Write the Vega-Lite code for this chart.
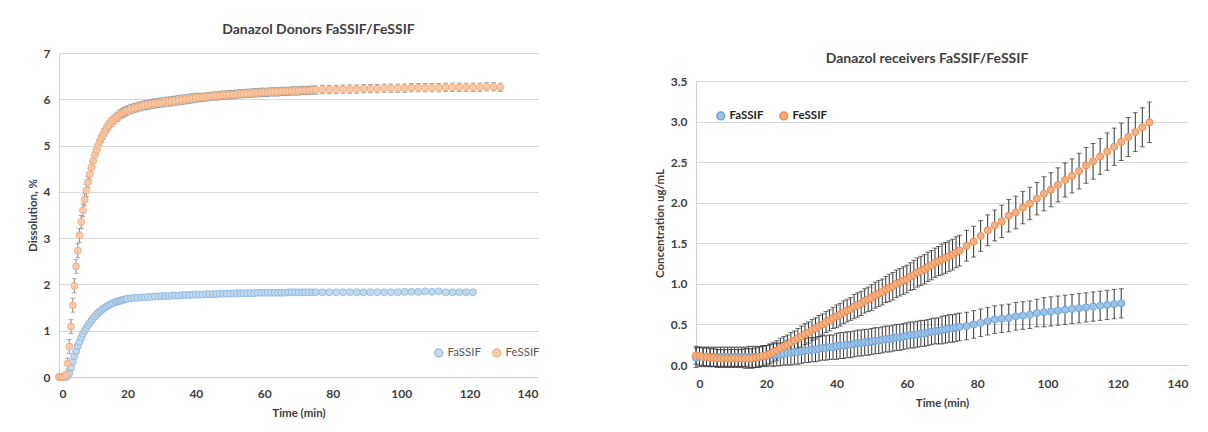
{
"$schema": "https://vega.github.io/schema/vega-lite/v6.json",
"background": "white",
"padding": {"left": 27, "top": 23, "right": 5, "bottom": 5},
"align": "none",
"spacing": 114,
"config": {
  "font": "Lato",
  "view": {"stroke": null},
  "axis": {"labelFont": "Lato", "labelFontWeight": "bold", "labelFontSize": 12, "labelColor": "#404040", "titleFont": "Lato", "titleFontWeight": "bold", "titleFontSize": 11.5, "titleColor": "#404040", "ticks": false, "gridColor": "#d9d9d9", "domainColor": "#d0d0d0", "labelPadding": 9},
  "title": {"font": "Lato", "fontSize": 14, "fontWeight": "bold", "color": "#404040", "anchor": "middle"}
},
"datasets": {
"donor": [
{"s":"FaSSIF","t":0,"y":0,"e":0.02},{"s":"FaSSIF","t":0.5,"y":0,"e":0.02},{"s":"FaSSIF","t":1,"y":0,"e":0.02},{"s":"FaSSIF","t":1.5,"y":0,"e":0.02},{"s":"FaSSIF","t":2,"y":0,"e":0.02},{"s":"FaSSIF","t":2.5,"y":0.02,"e":0.02},{"s":"FaSSIF","t":3,"y":0.08,"e":0.03},{"s":"FaSSIF","t":3.5,"y":0.2,"e":0.04},{"s":"FaSSIF","t":4,"y":0.33,"e":0.04},{"s":"FaSSIF","t":4.5,"y":0.45,"e":0.04},{"s":"FaSSIF","t":5,"y":0.56,"e":0.04},{"s":"FaSSIF","t":5.5,"y":0.67,"e":0.04},{"s":"FaSSIF","t":6,"y":0.76,"e":0.04},{"s":"FaSSIF","t":6.5,"y":0.85,"e":0.04},{"s":"FaSSIF","t":7,"y":0.93,"e":0.04},{"s":"FaSSIF","t":7.5,"y":1.0,"e":0.04},{"s":"FaSSIF","t":8,"y":1.06,"e":0.04},{"s":"FaSSIF","t":8.5,"y":1.12,"e":0.04},{"s":"FaSSIF","t":9,"y":1.17,"e":0.04},{"s":"FaSSIF","t":9.5,"y":1.22,"e":0.04},{"s":"FaSSIF","t":10,"y":1.27,"e":0.04},{"s":"FaSSIF","t":10.5,"y":1.31,"e":0.03},{"s":"FaSSIF","t":11,"y":1.35,"e":0.03},{"s":"FaSSIF","t":11.5,"y":1.39,"e":0.03},{"s":"FaSSIF","t":12,"y":1.42,"e":0.03},{"s":"FaSSIF","t":12.5,"y":1.45,"e":0.03},{"s":"FaSSIF","t":13,"y":1.48,"e":0.03},{"s":"FaSSIF","t":13.5,"y":1.5,"e":0.03},{"s":"FaSSIF","t":14,"y":1.53,"e":0.03},{"s":"FaSSIF","t":14.5,"y":1.55,"e":0.03},{"s":"FaSSIF","t":15,"y":1.57,"e":0.03},{"s":"FaSSIF","t":15.5,"y":1.59,"e":0.03},{"s":"FaSSIF","t":16,"y":1.6,"e":0.03},{"s":"FaSSIF","t":16.5,"y":1.62,"e":0.03},{"s":"FaSSIF","t":17,"y":1.63,"e":0.03},{"s":"FaSSIF","t":17.5,"y":1.64,"e":0.03},{"s":"FaSSIF","t":18,"y":1.65,"e":0.03},{"s":"FaSSIF","t":18.5,"y":1.66,"e":0.03},{"s":"FaSSIF","t":19,"y":1.67,"e":0.03},{"s":"FaSSIF","t":19.5,"y":1.68,"e":0.03},{"s":"FaSSIF","t":20,"y":1.69,"e":0.03},
{"s":"FaSSIF","t":21,"y":1.7,"e":0.03},{"s":"FaSSIF","t":22,"y":1.71,"e":0.03},{"s":"FaSSIF","t":23,"y":1.71,"e":0.03},{"s":"FaSSIF","t":24,"y":1.72,"e":0.03},{"s":"FaSSIF","t":25,"y":1.72,"e":0.03},{"s":"FaSSIF","t":26,"y":1.73,"e":0.03},{"s":"FaSSIF","t":27,"y":1.73,"e":0.03},{"s":"FaSSIF","t":28,"y":1.74,"e":0.03},{"s":"FaSSIF","t":29,"y":1.74,"e":0.03},{"s":"FaSSIF","t":30,"y":1.75,"e":0.03},{"s":"FaSSIF","t":31,"y":1.75,"e":0.03},{"s":"FaSSIF","t":32,"y":1.75,"e":0.03},{"s":"FaSSIF","t":33,"y":1.76,"e":0.03},{"s":"FaSSIF","t":34,"y":1.76,"e":0.03},{"s":"FaSSIF","t":35,"y":1.76,"e":0.03},{"s":"FaSSIF","t":36,"y":1.77,"e":0.03},{"s":"FaSSIF","t":37,"y":1.77,"e":0.03},{"s":"FaSSIF","t":38,"y":1.77,"e":0.03},{"s":"FaSSIF","t":39,"y":1.78,"e":0.03},{"s":"FaSSIF","t":40,"y":1.78,"e":0.03},{"s":"FaSSIF","t":41,"y":1.78,"e":0.03},{"s":"FaSSIF","t":42,"y":1.78,"e":0.03},{"s":"FaSSIF","t":43,"y":1.79,"e":0.03},{"s":"FaSSIF","t":44,"y":1.79,"e":0.03},{"s":"FaSSIF","t":45,"y":1.79,"e":0.03},{"s":"FaSSIF","t":46,"y":1.79,"e":0.03},{"s":"FaSSIF","t":47,"y":1.8,"e":0.03},{"s":"FaSSIF","t":48,"y":1.8,"e":0.03},{"s":"FaSSIF","t":49,"y":1.8,"e":0.03},{"s":"FaSSIF","t":50,"y":1.8,"e":0.03},{"s":"FaSSIF","t":51,"y":1.8,"e":0.03},{"s":"FaSSIF","t":52,"y":1.81,"e":0.03},{"s":"FaSSIF","t":53,"y":1.81,"e":0.03},{"s":"FaSSIF","t":54,"y":1.81,"e":0.03},{"s":"FaSSIF","t":55,"y":1.81,"e":0.03},{"s":"FaSSIF","t":56,"y":1.81,"e":0.03},{"s":"FaSSIF","t":57,"y":1.81,"e":0.03},{"s":"FaSSIF","t":58,"y":1.82,"e":0.03},{"s":"FaSSIF","t":59,"y":1.82,"e":0.03},{"s":"FaSSIF","t":60,"y":1.82,"e":0.03},{"s":"FaSSIF","t":61,"y":1.82,"e":0.03},{"s":"FaSSIF","t":62,"y":1.82,"e":0.03},{"s":"FaSSIF","t":63,"y":1.82,"e":0.03},{"s":"FaSSIF","t":64,"y":1.82,"e":0.03},{"s":"FaSSIF","t":65,"y":1.82,"e":0.03},{"s":"FaSSIF","t":66,"y":1.82,"e":0.03},{"s":"FaSSIF","t":67,"y":1.83,"e":0.03},{"s":"FaSSIF","t":68,"y":1.83,"e":0.03},{"s":"FaSSIF","t":69,"y":1.83,"e":0.03},{"s":"FaSSIF","t":70,"y":1.83,"e":0.03},{"s":"FaSSIF","t":71,"y":1.83,"e":0.03},{"s":"FaSSIF","t":72,"y":1.83,"e":0.03},{"s":"FaSSIF","t":73,"y":1.83,"e":0.03},{"s":"FaSSIF","t":74,"y":1.83,"e":0.03},{"s":"FaSSIF","t":75,"y":1.83,"e":0.03},
{"s":"FaSSIF","t":77,"y":1.83,"e":0.03},{"s":"FaSSIF","t":79,"y":1.83,"e":0.03},{"s":"FaSSIF","t":81,"y":1.83,"e":0.03},{"s":"FaSSIF","t":83,"y":1.83,"e":0.03},{"s":"FaSSIF","t":85,"y":1.83,"e":0.03},{"s":"FaSSIF","t":87,"y":1.83,"e":0.03},{"s":"FaSSIF","t":89,"y":1.83,"e":0.03},{"s":"FaSSIF","t":91,"y":1.83,"e":0.03},{"s":"FaSSIF","t":93,"y":1.83,"e":0.03},{"s":"FaSSIF","t":95,"y":1.83,"e":0.03},{"s":"FaSSIF","t":97,"y":1.83,"e":0.03},{"s":"FaSSIF","t":99,"y":1.83,"e":0.03},{"s":"FaSSIF","t":101,"y":1.84,"e":0.03},{"s":"FaSSIF","t":103,"y":1.84,"e":0.03},{"s":"FaSSIF","t":105,"y":1.84,"e":0.03},{"s":"FaSSIF","t":107,"y":1.85,"e":0.03},{"s":"FaSSIF","t":109,"y":1.84,"e":0.03},{"s":"FaSSIF","t":111,"y":1.85,"e":0.03},{"s":"FaSSIF","t":113,"y":1.83,"e":0.03},{"s":"FaSSIF","t":115,"y":1.83,"e":0.03},{"s":"FaSSIF","t":117,"y":1.83,"e":0.03},{"s":"FaSSIF","t":119,"y":1.83,"e":0.03},{"s":"FaSSIF","t":121,"y":1.83,"e":0.03},
{"s":"FeSSIF","t":0,"y":0,"e":0.02},{"s":"FeSSIF","t":0.5,"y":0,"e":0.02},{"s":"FeSSIF","t":1,"y":0,"e":0.02},{"s":"FeSSIF","t":1.5,"y":0.01,"e":0.03},{"s":"FeSSIF","t":2,"y":0.05,"e":0.05},{"s":"FeSSIF","t":2.5,"y":0.29,"e":0.12},{"s":"FeSSIF","t":3,"y":0.66,"e":0.15},{"s":"FeSSIF","t":3.5,"y":1.09,"e":0.15},{"s":"FeSSIF","t":4,"y":1.55,"e":0.15},{"s":"FeSSIF","t":4.5,"y":1.97,"e":0.15},{"s":"FeSSIF","t":5,"y":2.39,"e":0.15},{"s":"FeSSIF","t":5.5,"y":2.73,"e":0.15},{"s":"FeSSIF","t":6,"y":3.06,"e":0.15},{"s":"FeSSIF","t":6.5,"y":3.35,"e":0.14},{"s":"FeSSIF","t":7,"y":3.6,"e":0.14},{"s":"FeSSIF","t":7.5,"y":3.83,"e":0.13},{"s":"FeSSIF","t":8,"y":4.03,"e":0.13},{"s":"FeSSIF","t":8.5,"y":4.21,"e":0.12},{"s":"FeSSIF","t":9,"y":4.38,"e":0.12},{"s":"FeSSIF","t":9.5,"y":4.53,"e":0.12},{"s":"FeSSIF","t":10,"y":4.67,"e":0.12},{"s":"FeSSIF","t":10.5,"y":4.8,"e":0.12},{"s":"FeSSIF","t":11,"y":4.91,"e":0.11},{"s":"FeSSIF","t":11.5,"y":5.01,"e":0.11},{"s":"FeSSIF","t":12,"y":5.1,"e":0.11},{"s":"FeSSIF","t":12.5,"y":5.18,"e":0.11},{"s":"FeSSIF","t":13,"y":5.25,"e":0.11},{"s":"FeSSIF","t":13.5,"y":5.32,"e":0.11},{"s":"FeSSIF","t":14,"y":5.38,"e":0.1},{"s":"FeSSIF","t":14.5,"y":5.43,"e":0.1},{"s":"FeSSIF","t":15,"y":5.48,"e":0.1},{"s":"FeSSIF","t":15.5,"y":5.52,"e":0.1},{"s":"FeSSIF","t":16,"y":5.56,"e":0.1},{"s":"FeSSIF","t":16.5,"y":5.59,"e":0.1},{"s":"FeSSIF","t":17,"y":5.62,"e":0.1},{"s":"FeSSIF","t":17.5,"y":5.65,"e":0.1},{"s":"FeSSIF","t":18,"y":5.68,"e":0.1},{"s":"FeSSIF","t":18.5,"y":5.7,"e":0.1},{"s":"FeSSIF","t":19,"y":5.72,"e":0.1},{"s":"FeSSIF","t":19.5,"y":5.74,"e":0.1},{"s":"FeSSIF","t":20,"y":5.76,"e":0.1},
{"s":"FeSSIF","t":21,"y":5.79,"e":0.1},{"s":"FeSSIF","t":22,"y":5.81,"e":0.1},{"s":"FeSSIF","t":23,"y":5.83,"e":0.1},{"s":"FeSSIF","t":24,"y":5.85,"e":0.1},{"s":"FeSSIF","t":25,"y":5.87,"e":0.1},{"s":"FeSSIF","t":26,"y":5.88,"e":0.1},{"s":"FeSSIF","t":27,"y":5.9,"e":0.1},{"s":"FeSSIF","t":28,"y":5.91,"e":0.1},{"s":"FeSSIF","t":29,"y":5.92,"e":0.1},{"s":"FeSSIF","t":30,"y":5.93,"e":0.1},{"s":"FeSSIF","t":31,"y":5.94,"e":0.1},{"s":"FeSSIF","t":32,"y":5.95,"e":0.1},{"s":"FeSSIF","t":33,"y":5.96,"e":0.1},{"s":"FeSSIF","t":34,"y":5.97,"e":0.1},{"s":"FeSSIF","t":35,"y":5.98,"e":0.1},{"s":"FeSSIF","t":36,"y":5.99,"e":0.1},{"s":"FeSSIF","t":37,"y":6.0,"e":0.1},{"s":"FeSSIF","t":38,"y":6.01,"e":0.1},{"s":"FeSSIF","t":39,"y":6.02,"e":0.1},{"s":"FeSSIF","t":40,"y":6.03,"e":0.1},{"s":"FeSSIF","t":41,"y":6.04,"e":0.09},{"s":"FeSSIF","t":42,"y":6.04,"e":0.09},{"s":"FeSSIF","t":43,"y":6.05,"e":0.09},{"s":"FeSSIF","t":44,"y":6.06,"e":0.09},{"s":"FeSSIF","t":45,"y":6.07,"e":0.09},{"s":"FeSSIF","t":46,"y":6.07,"e":0.09},{"s":"FeSSIF","t":47,"y":6.08,"e":0.09},{"s":"FeSSIF","t":48,"y":6.09,"e":0.09},{"s":"FeSSIF","t":49,"y":6.09,"e":0.09},{"s":"FeSSIF","t":50,"y":6.1,"e":0.09},{"s":"FeSSIF","t":51,"y":6.1,"e":0.09},{"s":"FeSSIF","t":52,"y":6.11,"e":0.09},{"s":"FeSSIF","t":53,"y":6.12,"e":0.09},{"s":"FeSSIF","t":54,"y":6.12,"e":0.09},{"s":"FeSSIF","t":55,"y":6.13,"e":0.09},{"s":"FeSSIF","t":56,"y":6.13,"e":0.09},{"s":"FeSSIF","t":57,"y":6.14,"e":0.09},{"s":"FeSSIF","t":58,"y":6.14,"e":0.09},{"s":"FeSSIF","t":59,"y":6.15,"e":0.09},{"s":"FeSSIF","t":60,"y":6.15,"e":0.09},{"s":"FeSSIF","t":61,"y":6.15,"e":0.09},{"s":"FeSSIF","t":62,"y":6.16,"e":0.09},{"s":"FeSSIF","t":63,"y":6.16,"e":0.09},{"s":"FeSSIF","t":64,"y":6.16,"e":0.09},{"s":"FeSSIF","t":65,"y":6.17,"e":0.09},{"s":"FeSSIF","t":66,"y":6.17,"e":0.09},{"s":"FeSSIF","t":67,"y":6.17,"e":0.09},{"s":"FeSSIF","t":68,"y":6.18,"e":0.09},{"s":"FeSSIF","t":69,"y":6.18,"e":0.09},{"s":"FeSSIF","t":70,"y":6.18,"e":0.09},{"s":"FeSSIF","t":71,"y":6.19,"e":0.09},{"s":"FeSSIF","t":72,"y":6.19,"e":0.09},{"s":"FeSSIF","t":73,"y":6.19,"e":0.09},{"s":"FeSSIF","t":74,"y":6.2,"e":0.09},{"s":"FeSSIF","t":75,"y":6.2,"e":0.09},
{"s":"FeSSIF","t":77,"y":6.21,"e":0.09},{"s":"FeSSIF","t":79,"y":6.21,"e":0.09},{"s":"FeSSIF","t":81,"y":6.21,"e":0.09},{"s":"FeSSIF","t":83,"y":6.22,"e":0.09},{"s":"FeSSIF","t":85,"y":6.22,"e":0.09},{"s":"FeSSIF","t":87,"y":6.22,"e":0.09},{"s":"FeSSIF","t":89,"y":6.23,"e":0.09},{"s":"FeSSIF","t":91,"y":6.23,"e":0.09},{"s":"FeSSIF","t":93,"y":6.23,"e":0.09},{"s":"FeSSIF","t":95,"y":6.24,"e":0.09},{"s":"FeSSIF","t":97,"y":6.24,"e":0.09},{"s":"FeSSIF","t":99,"y":6.24,"e":0.09},{"s":"FeSSIF","t":101,"y":6.24,"e":0.09},{"s":"FeSSIF","t":103,"y":6.25,"e":0.09},{"s":"FeSSIF","t":105,"y":6.25,"e":0.09},{"s":"FeSSIF","t":107,"y":6.25,"e":0.09},{"s":"FeSSIF","t":109,"y":6.25,"e":0.09},{"s":"FeSSIF","t":111,"y":6.25,"e":0.09},{"s":"FeSSIF","t":113,"y":6.26,"e":0.09},{"s":"FeSSIF","t":115,"y":6.26,"e":0.09},{"s":"FeSSIF","t":117,"y":6.26,"e":0.09},{"s":"FeSSIF","t":119,"y":6.26,"e":0.09},{"s":"FeSSIF","t":121,"y":6.26,"e":0.09},{"s":"FeSSIF","t":123,"y":6.26,"e":0.09},{"s":"FeSSIF","t":125,"y":6.27,"e":0.09},{"s":"FeSSIF","t":127,"y":6.27,"e":0.09},{"s":"FeSSIF","t":129,"y":6.26,"e":0.09}
],
"recv": [
{"s":"FaSSIF","t":0,"y":0.09,"e":0.12},{"s":"FaSSIF","t":1,"y":0.1,"e":0.12},{"s":"FaSSIF","t":2,"y":0.1,"e":0.12},{"s":"FaSSIF","t":3,"y":0.1,"e":0.12},{"s":"FaSSIF","t":4,"y":0.1,"e":0.12},{"s":"FaSSIF","t":5,"y":0.1,"e":0.12},{"s":"FaSSIF","t":6,"y":0.1,"e":0.12},{"s":"FaSSIF","t":7,"y":0.1,"e":0.12},{"s":"FaSSIF","t":8,"y":0.1,"e":0.12},{"s":"FaSSIF","t":9,"y":0.1,"e":0.12},{"s":"FaSSIF","t":10,"y":0.1,"e":0.12},{"s":"FaSSIF","t":11,"y":0.1,"e":0.12},{"s":"FaSSIF","t":12,"y":0.1,"e":0.12},{"s":"FaSSIF","t":13,"y":0.1,"e":0.12},{"s":"FaSSIF","t":14,"y":0.1,"e":0.12},{"s":"FaSSIF","t":15,"y":0.1,"e":0.13},{"s":"FaSSIF","t":16,"y":0.1,"e":0.13},{"s":"FaSSIF","t":17,"y":0.1,"e":0.13},{"s":"FaSSIF","t":18,"y":0.1,"e":0.13},{"s":"FaSSIF","t":19,"y":0.11,"e":0.13},{"s":"FaSSIF","t":20,"y":0.11,"e":0.13},{"s":"FaSSIF","t":21,"y":0.12,"e":0.13},{"s":"FaSSIF","t":22,"y":0.12,"e":0.14},{"s":"FaSSIF","t":23,"y":0.13,"e":0.14},{"s":"FaSSIF","t":24,"y":0.13,"e":0.14},{"s":"FaSSIF","t":25,"y":0.14,"e":0.14},{"s":"FaSSIF","t":26,"y":0.15,"e":0.15},{"s":"FaSSIF","t":27,"y":0.15,"e":0.15},{"s":"FaSSIF","t":28,"y":0.16,"e":0.15},{"s":"FaSSIF","t":29,"y":0.16,"e":0.15},{"s":"FaSSIF","t":30,"y":0.17,"e":0.15},{"s":"FaSSIF","t":31,"y":0.18,"e":0.15},{"s":"FaSSIF","t":32,"y":0.18,"e":0.15},{"s":"FaSSIF","t":33,"y":0.19,"e":0.15},{"s":"FaSSIF","t":34,"y":0.19,"e":0.15},{"s":"FaSSIF","t":35,"y":0.2,"e":0.15},{"s":"FaSSIF","t":36,"y":0.21,"e":0.15},{"s":"FaSSIF","t":37,"y":0.21,"e":0.15},{"s":"FaSSIF","t":38,"y":0.22,"e":0.15},{"s":"FaSSIF","t":39,"y":0.22,"e":0.15},{"s":"FaSSIF","t":40,"y":0.23,"e":0.16},{"s":"FaSSIF","t":41,"y":0.24,"e":0.16},{"s":"FaSSIF","t":42,"y":0.24,"e":0.16},{"s":"FaSSIF","t":43,"y":0.25,"e":0.16},{"s":"FaSSIF","t":44,"y":0.25,"e":0.16},{"s":"FaSSIF","t":45,"y":0.26,"e":0.16},{"s":"FaSSIF","t":46,"y":0.27,"e":0.16},{"s":"FaSSIF","t":47,"y":0.27,"e":0.16},{"s":"FaSSIF","t":48,"y":0.28,"e":0.16},{"s":"FaSSIF","t":49,"y":0.28,"e":0.16},{"s":"FaSSIF","t":50,"y":0.29,"e":0.16},{"s":"FaSSIF","t":51,"y":0.3,"e":0.16},{"s":"FaSSIF","t":52,"y":0.3,"e":0.16},{"s":"FaSSIF","t":53,"y":0.31,"e":0.16},{"s":"FaSSIF","t":54,"y":0.32,"e":0.16},{"s":"FaSSIF","t":55,"y":0.32,"e":0.16},{"s":"FaSSIF","t":56,"y":0.33,"e":0.16},{"s":"FaSSIF","t":57,"y":0.34,"e":0.16},{"s":"FaSSIF","t":58,"y":0.34,"e":0.16},{"s":"FaSSIF","t":59,"y":0.35,"e":0.16},{"s":"FaSSIF","t":60,"y":0.36,"e":0.16},{"s":"FaSSIF","t":61,"y":0.37,"e":0.16},{"s":"FaSSIF","t":62,"y":0.37,"e":0.16},{"s":"FaSSIF","t":63,"y":0.38,"e":0.16},{"s":"FaSSIF","t":64,"y":0.39,"e":0.16},{"s":"FaSSIF","t":65,"y":0.39,"e":0.16},{"s":"FaSSIF","t":66,"y":0.4,"e":0.16},{"s":"FaSSIF","t":67,"y":0.41,"e":0.16},{"s":"FaSSIF","t":68,"y":0.42,"e":0.16},{"s":"FaSSIF","t":69,"y":0.42,"e":0.16},{"s":"FaSSIF","t":70,"y":0.43,"e":0.17},{"s":"FaSSIF","t":71,"y":0.44,"e":0.17},{"s":"FaSSIF","t":72,"y":0.45,"e":0.17},{"s":"FaSSIF","t":73,"y":0.45,"e":0.17},{"s":"FaSSIF","t":74,"y":0.46,"e":0.17},{"s":"FaSSIF","t":75,"y":0.47,"e":0.17},
{"s":"FaSSIF","t":77,"y":0.48,"e":0.17},{"s":"FaSSIF","t":79,"y":0.5,"e":0.17},{"s":"FaSSIF","t":81,"y":0.52,"e":0.17},{"s":"FaSSIF","t":83,"y":0.54,"e":0.17},{"s":"FaSSIF","t":85,"y":0.56,"e":0.17},{"s":"FaSSIF","t":87,"y":0.57,"e":0.17},{"s":"FaSSIF","t":89,"y":0.58,"e":0.17},{"s":"FaSSIF","t":91,"y":0.6,"e":0.17},{"s":"FaSSIF","t":93,"y":0.61,"e":0.17},{"s":"FaSSIF","t":95,"y":0.62,"e":0.17},{"s":"FaSSIF","t":97,"y":0.64,"e":0.17},{"s":"FaSSIF","t":99,"y":0.65,"e":0.18},{"s":"FaSSIF","t":101,"y":0.66,"e":0.18},{"s":"FaSSIF","t":103,"y":0.67,"e":0.18},{"s":"FaSSIF","t":105,"y":0.68,"e":0.18},{"s":"FaSSIF","t":107,"y":0.69,"e":0.18},{"s":"FaSSIF","t":109,"y":0.7,"e":0.18},{"s":"FaSSIF","t":111,"y":0.71,"e":0.18},{"s":"FaSSIF","t":113,"y":0.72,"e":0.18},{"s":"FaSSIF","t":115,"y":0.73,"e":0.18},{"s":"FaSSIF","t":117,"y":0.74,"e":0.18},{"s":"FaSSIF","t":119,"y":0.75,"e":0.18},{"s":"FaSSIF","t":121,"y":0.76,"e":0.18},
{"s":"FeSSIF","t":0,"y":0.12,"e":0.11},{"s":"FeSSIF","t":1,"y":0.11,"e":0.11},{"s":"FeSSIF","t":2,"y":0.1,"e":0.11},{"s":"FeSSIF","t":3,"y":0.1,"e":0.11},{"s":"FeSSIF","t":4,"y":0.09,"e":0.11},{"s":"FeSSIF","t":5,"y":0.09,"e":0.11},{"s":"FeSSIF","t":6,"y":0.08,"e":0.11},{"s":"FeSSIF","t":7,"y":0.08,"e":0.11},{"s":"FeSSIF","t":8,"y":0.08,"e":0.11},{"s":"FeSSIF","t":9,"y":0.08,"e":0.11},{"s":"FeSSIF","t":10,"y":0.08,"e":0.11},{"s":"FeSSIF","t":11,"y":0.08,"e":0.11},{"s":"FeSSIF","t":12,"y":0.08,"e":0.11},{"s":"FeSSIF","t":13,"y":0.08,"e":0.11},{"s":"FeSSIF","t":14,"y":0.08,"e":0.12},{"s":"FeSSIF","t":15,"y":0.08,"e":0.12},{"s":"FeSSIF","t":16,"y":0.08,"e":0.12},{"s":"FeSSIF","t":17,"y":0.09,"e":0.12},{"s":"FeSSIF","t":18,"y":0.1,"e":0.12},{"s":"FeSSIF","t":19,"y":0.11,"e":0.12},{"s":"FeSSIF","t":20,"y":0.12,"e":0.12},{"s":"FeSSIF","t":21,"y":0.14,"e":0.12},{"s":"FeSSIF","t":22,"y":0.16,"e":0.12},{"s":"FeSSIF","t":23,"y":0.18,"e":0.12},{"s":"FeSSIF","t":24,"y":0.21,"e":0.12},{"s":"FeSSIF","t":25,"y":0.23,"e":0.12},{"s":"FeSSIF","t":26,"y":0.25,"e":0.12},{"s":"FeSSIF","t":27,"y":0.28,"e":0.12},{"s":"FeSSIF","t":28,"y":0.3,"e":0.12},{"s":"FeSSIF","t":29,"y":0.33,"e":0.12},{"s":"FeSSIF","t":30,"y":0.35,"e":0.13},{"s":"FeSSIF","t":31,"y":0.38,"e":0.13},{"s":"FeSSIF","t":32,"y":0.4,"e":0.13},{"s":"FeSSIF","t":33,"y":0.43,"e":0.13},{"s":"FeSSIF","t":34,"y":0.45,"e":0.13},{"s":"FeSSIF","t":35,"y":0.48,"e":0.13},{"s":"FeSSIF","t":36,"y":0.5,"e":0.13},{"s":"FeSSIF","t":37,"y":0.53,"e":0.13},{"s":"FeSSIF","t":38,"y":0.55,"e":0.13},{"s":"FeSSIF","t":39,"y":0.58,"e":0.13},{"s":"FeSSIF","t":40,"y":0.6,"e":0.14},{"s":"FeSSIF","t":41,"y":0.62,"e":0.14},{"s":"FeSSIF","t":42,"y":0.65,"e":0.14},{"s":"FeSSIF","t":43,"y":0.67,"e":0.14},{"s":"FeSSIF","t":44,"y":0.69,"e":0.14},{"s":"FeSSIF","t":45,"y":0.72,"e":0.15},{"s":"FeSSIF","t":46,"y":0.74,"e":0.15},{"s":"FeSSIF","t":47,"y":0.76,"e":0.15},{"s":"FeSSIF","t":48,"y":0.79,"e":0.15},{"s":"FeSSIF","t":49,"y":0.81,"e":0.15},{"s":"FeSSIF","t":50,"y":0.83,"e":0.16},{"s":"FeSSIF","t":51,"y":0.86,"e":0.16},{"s":"FeSSIF","t":52,"y":0.88,"e":0.16},{"s":"FeSSIF","t":53,"y":0.9,"e":0.16},{"s":"FeSSIF","t":54,"y":0.93,"e":0.16},{"s":"FeSSIF","t":55,"y":0.95,"e":0.17},{"s":"FeSSIF","t":56,"y":0.97,"e":0.17},{"s":"FeSSIF","t":57,"y":1.0,"e":0.17},{"s":"FeSSIF","t":58,"y":1.02,"e":0.17},{"s":"FeSSIF","t":59,"y":1.04,"e":0.17},{"s":"FeSSIF","t":60,"y":1.06,"e":0.17},{"s":"FeSSIF","t":61,"y":1.09,"e":0.17},{"s":"FeSSIF","t":62,"y":1.11,"e":0.18},{"s":"FeSSIF","t":63,"y":1.14,"e":0.18},{"s":"FeSSIF","t":64,"y":1.16,"e":0.18},{"s":"FeSSIF","t":65,"y":1.18,"e":0.18},{"s":"FeSSIF","t":66,"y":1.21,"e":0.18},{"s":"FeSSIF","t":67,"y":1.23,"e":0.18},{"s":"FeSSIF","t":68,"y":1.26,"e":0.18},{"s":"FeSSIF","t":69,"y":1.28,"e":0.18},{"s":"FeSSIF","t":70,"y":1.3,"e":0.19},{"s":"FeSSIF","t":71,"y":1.32,"e":0.19},{"s":"FeSSIF","t":72,"y":1.34,"e":0.19},{"s":"FeSSIF","t":73,"y":1.36,"e":0.19},{"s":"FeSSIF","t":74,"y":1.39,"e":0.19},{"s":"FeSSIF","t":75,"y":1.41,"e":0.19},
{"s":"FeSSIF","t":77,"y":1.47,"e":0.19},{"s":"FeSSIF","t":79,"y":1.52,"e":0.19},{"s":"FeSSIF","t":81,"y":1.59,"e":0.19},{"s":"FeSSIF","t":83,"y":1.66,"e":0.19},{"s":"FeSSIF","t":85,"y":1.72,"e":0.19},{"s":"FeSSIF","t":87,"y":1.77,"e":0.2},{"s":"FeSSIF","t":89,"y":1.84,"e":0.2},{"s":"FeSSIF","t":91,"y":1.88,"e":0.2},{"s":"FeSSIF","t":93,"y":1.94,"e":0.2},{"s":"FeSSIF","t":95,"y":1.99,"e":0.2},{"s":"FeSSIF","t":97,"y":2.05,"e":0.2},{"s":"FeSSIF","t":99,"y":2.11,"e":0.21},{"s":"FeSSIF","t":101,"y":2.16,"e":0.21},{"s":"FeSSIF","t":103,"y":2.22,"e":0.21},{"s":"FeSSIF","t":105,"y":2.28,"e":0.21},{"s":"FeSSIF","t":107,"y":2.33,"e":0.21},{"s":"FeSSIF","t":109,"y":2.39,"e":0.22},{"s":"FeSSIF","t":111,"y":2.46,"e":0.22},{"s":"FeSSIF","t":113,"y":2.51,"e":0.22},{"s":"FeSSIF","t":115,"y":2.57,"e":0.22},{"s":"FeSSIF","t":117,"y":2.63,"e":0.23},{"s":"FeSSIF","t":119,"y":2.69,"e":0.23},{"s":"FeSSIF","t":121,"y":2.75,"e":0.23},{"s":"FeSSIF","t":123,"y":2.81,"e":0.24},{"s":"FeSSIF","t":125,"y":2.87,"e":0.24},{"s":"FeSSIF","t":127,"y":2.93,"e":0.24},{"s":"FeSSIF","t":129,"y":2.99,"e":0.25}
]
},
"hconcat": [
{
  "width": 479, "height": 324,
  "title": {"text": "Danazol Donors FaSSIF/FeSSIF", "offset": 10, "dx": 20},
  "data": {"name": "donor"},
  "encoding": {
    "x": {"field": "t", "type": "quantitative", "scale": {"domain": [0, 140], "nice": false}, "axis": {"values": [0, 20, 40, 60, 80, 100, 120, 140], "title": "Time (min)", "grid": false, "labelPadding": 11, "titlePadding": 8}},
    "y": {"field": "y", "type": "quantitative", "scale": {"domain": [0, 7], "nice": false}, "axis": {"values": [0, 1, 2, 3, 4, 5, 6, 7], "title": "Dissolution, %", "labelPadding": 9, "titlePadding": 5}}
  },
  "layer": [
    {"mark": {"type": "errorbar", "color": "#8c8c8c", "ticks": true, "thickness": 1}, "encoding": {"yError": {"field": "e"}}},
    {"mark": {"type": "point", "shape": "circle", "filled": true, "size": 48, "strokeWidth": 1, "opacity": 0.9},
     "encoding": {
       "fill": {"field": "s", "type": "nominal", "scale": {"domain": ["FaSSIF", "FeSSIF"], "range": ["#c3dbf0", "#f9c8a5"]}, "legend": {"orient": "none", "legendX": 374, "legendY": 294, "direction": "horizontal", "title": null, "symbolSize": 60, "labelFontSize": 11.5, "labelColor": "#595959", "labelFontWeight": "normal", "columnPadding": 8, "labelOffset": 3}},
       "stroke": {"field": "s", "type": "nominal", "scale": {"domain": ["FaSSIF", "FeSSIF"], "range": ["#8fb7e0", "#f2ab7a"]}, "legend": {"orient": "none", "legendX": 374, "legendY": 294, "direction": "horizontal", "title": null, "symbolSize": 60, "labelFontSize": 11.5, "labelColor": "#595959", "labelFontWeight": "normal", "columnPadding": 8, "labelOffset": 3}}
     }}
  ]
},
{
  "width": 492, "height": 312,
  "title": {"text": "Danazol receivers  FaSSIF/FeSSIF", "offset": -13, "dx": -15},
  "data": {"name": "recv"},
  "encoding": {
    "x": {"field": "t", "type": "quantitative", "scale": {"domain": [0, 140], "nice": false}, "axis": {"values": [0, 20, 40, 60, 80, 100, 120, 140], "title": "Time (min)", "grid": false, "labelPadding": 13, "titlePadding": 8}},
    "y": {"field": "y", "type": "quantitative", "scale": {"domain": [0, 3.5], "nice": false, "range": [312, 28]}, "axis": {"values": [0, 0.5, 1, 1.5, 2, 2.5, 3, 3.5], "format": ".1f", "title": "Concentration ug/mL", "labelPadding": 9, "titlePadding": 5}}
  },
  "layer": [
    {"mark": {"type": "errorbar", "color": "#333333", "ticks": true, "thickness": 1}, "encoding": {"yError": {"field": "e"}}},
    {"mark": {"type": "point", "shape": "circle", "filled": true, "size": 50, "strokeWidth": 1, "opacity": 1},
     "encoding": {
       "fill": {"field": "s", "type": "nominal", "scale": {"domain": ["FaSSIF", "FeSSIF"], "range": ["#9dc3e6", "#f4b183"]}, "legend": {"orient": "none", "legendX": 19, "legendY": 57, "direction": "horizontal", "title": null, "symbolSize": 60, "labelFontSize": 11.5, "labelColor": "#262626", "labelFontWeight": "bold", "columnPadding": 12, "labelOffset": 3}},
       "stroke": {"field": "s", "type": "nominal", "scale": {"domain": ["FaSSIF", "FeSSIF"], "range": ["#6fa3d8", "#ec8d4f"]}, "legend": {"orient": "none", "legendX": 19, "legendY": 57, "direction": "horizontal", "title": null, "symbolSize": 60, "labelFontSize": 11.5, "labelColor": "#262626", "labelFontWeight": "bold", "columnPadding": 12, "labelOffset": 3}}
     }}
  ]
}
],
"resolve": {"scale": {"fill": "independent", "stroke": "independent"}, "legend": {"fill": "independent", "stroke": "independent"}}
}
